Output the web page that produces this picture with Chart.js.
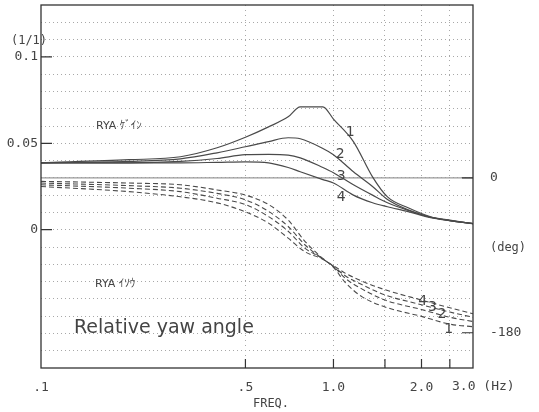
<!DOCTYPE html>
<html>
<head>
<meta charset="utf-8">
<script src="https://cdn.jsdelivr.net/npm/chart.js@4/dist/chart.umd.min.js"></script>
<style>
  body { margin: 0; background: #fff; }
</style>
</head>
<body>
<canvas id="chart" width="539" height="412"></canvas>
<script>
// Frequencies (Hz) for the gain curves
const gainFreq = [0.1, 0.2, 0.3, 0.4, 0.5, 0.6, 0.7, 0.77, 0.92, 1.0, 1.17, 1.36, 1.53, 1.8, 2.15, 2.5, 3.0];
// RYA gain (1/1), curves 1..4
const gain1 = [0.0387, 0.0405, 0.0422, 0.0474, 0.0535, 0.0595, 0.0653, 0.0711, 0.0711, 0.064, 0.051, 0.0306, 0.019, 0.0127, 0.0075, 0.0055, 0.0035];
const gain2 = [0.0387, 0.0395, 0.041, 0.0445, 0.048, 0.051, 0.0532, 0.0526, 0.047, 0.0434, 0.0335, 0.025, 0.0175, 0.0115, 0.0072, 0.0053, 0.0035];
const gain3 = [0.0387, 0.0387, 0.0395, 0.0412, 0.0434, 0.0436, 0.0432, 0.0416, 0.036, 0.033, 0.026, 0.020, 0.0156, 0.0112, 0.0072, 0.0053, 0.0035];
const gain4 = [0.0387, 0.0387, 0.0387, 0.039, 0.0393, 0.0387, 0.036, 0.0335, 0.029, 0.027, 0.020, 0.0156, 0.0133, 0.0105, 0.007, 0.0053, 0.0035];

// Frequencies (Hz) for the phase curves
const phaseFreq = [0.1, 0.2, 0.3, 0.4, 0.5, 0.6, 0.7, 0.8, 0.9, 1.0, 1.1, 1.25, 1.5, 2.0, 2.5, 3.0];
// RYA phase (deg), curves 1..4
const phase1 = [-4, -6, -8, -14, -20, -31, -49, -74, -91, -104, -122, -138, -150, -161, -170, -173];
const phase2 = [-6, -9, -12, -18, -25.5, -39, -56.5, -78, -92, -103, -117, -129, -142, -153, -162, -167];
const phase3 = [-8, -12, -16, -23.6, -31, -45, -62, -82, -92, -103, -114, -124, -136, -147.5, -156, -162];
const phase4 = [-10, -16, -22, -29, -39.5, -52.6, -70, -86, -93, -102, -111, -120, -130, -142, -151, -158];

// Axis ticks
const xTicks = [0.1, 0.5, 1.0, 1.5, 2.0, 2.5, 3.0];
const xLabels = { 0.1: '.1', 0.5: '.5', 1: '1.0', 2: '2.0' };
const gainTicks = [-0.07, -0.06, -0.05, -0.04, -0.03, -0.02, -0.01, 0, 0.01, 0.02, 0.03, 0.04, 0.05, 0.06, 0.07, 0.08, 0.09, 0.1, 0.11, 0.12];
const gainLabels = { '0': '0', '0.05': '0.05', '0.1': '0.1' };
const phaseTicks = [0, -180];

function pts(xs, ys) {
    return xs.map((x, i) => ({ x: x, y: ys[i] }));
}

const lineColor = '#4a4a4a';
const textColor = '#444';
const monoFont = '"DejaVu Sans Mono", "Liberation Mono", monospace';

function gainSet(data) {
    return { data: pts(gainFreq, data), yAxisID: 'y', borderColor: lineColor, borderWidth: 1.2, pointRadius: 0, cubicInterpolationMode: 'monotone', fill: false };
}
function phaseSet(data) {
    return { data: pts(phaseFreq, data), yAxisID: 'y2', borderColor: lineColor, borderWidth: 1.1, borderDash: [5, 3], pointRadius: 0, cubicInterpolationMode: 'monotone', fill: false };
}

// Texts, frame and inner tick marks
const decorPlugin = {
    id: 'decor',
    beforeDatasetsDraw(chart) {
        const ctx = chart.ctx, a = chart.chartArea;
        const y2 = chart.scales.y2;
        ctx.save();
        // 0 deg reference line
        ctx.strokeStyle = '#9a9a9a';
        ctx.lineWidth = 1.2;
        ctx.beginPath();
        ctx.moveTo(a.left, y2.getPixelForValue(0));
        ctx.lineTo(a.right, y2.getPixelForValue(0));
        ctx.stroke();
        ctx.restore();
    },
    afterDraw(chart) {
        const ctx = chart.ctx, a = chart.chartArea;
        const x = chart.scales.x, y = chart.scales.y, y2 = chart.scales.y2;
        ctx.save();
        // frame
        ctx.strokeStyle = '#333';
        ctx.lineWidth = 1.3;
        ctx.strokeRect(a.left, a.top, a.right - a.left, a.bottom - a.top);

        // tick marks pointing inside
        ctx.lineWidth = 1.2;
        ctx.beginPath();
        [0, 0.05, 0.1].forEach(v => {
            const py = y.getPixelForValue(v);
            ctx.moveTo(a.left, py); ctx.lineTo(a.left + 11, py);
        });
        phaseTicks.forEach(v => {
            const py = y2.getPixelForValue(v);
            ctx.moveTo(a.right, py); ctx.lineTo(a.right - 11, py);
        });
        [0.5, 1.0, 1.5, 2.0, 2.5].forEach(v => {
            const px = x.getPixelForValue(v);
            ctx.moveTo(px, a.bottom); ctx.lineTo(px, a.bottom - 9);
        });
        ctx.stroke();

        ctx.fillStyle = textColor;
        ctx.textBaseline = 'middle';
        ctx.textAlign = 'center';
        ctx.font = '12px ' + monoFont;
        ctx.fillText('(1/1)', 29, 41);
        ctx.fillText('(deg)', 508, 248);
        ctx.fillText('FREQ.', 271, 404);
        ctx.textAlign = 'left';
        ctx.font = '13px ' + monoFont;
        ctx.fillText('3.0 (Hz)', 452, 387);

        ctx.font = '11px "DejaVu Sans", "Noto Sans CJK JP", sans-serif';
        ctx.fillText('RYA ｹﾞｲﾝ', 96, 126);
        ctx.fillText('RYA ｲｿｳ', 95, 284);

        ctx.font = '19px "DejaVu Sans", sans-serif';
        ctx.fillText('Relative yaw angle', 74, 328);

        // curve numbers
        ctx.textAlign = 'center';
        ctx.font = '14px "DejaVu Sans", sans-serif';
        [['1', 1.14, 0.0566], ['2', 1.055, 0.0434], ['3', 1.063, 0.0306], ['4', 1.063, 0.0185]].forEach(l => {
            ctx.fillText(l[0], x.getPixelForValue(l[1]), y.getPixelForValue(l[2]));
        });
        [['4', 2.02, -143], ['3', 2.18, -151], ['2', 2.35, -159], ['1', 2.48, -176]].forEach(l => {
            ctx.fillText(l[0], x.getPixelForValue(l[1]), y2.getPixelForValue(l[2]));
        });
        ctx.restore();
    }
};

function noPad(scale) {
    scale.paddingTop = 0; scale.paddingBottom = 0;
    scale.paddingLeft = 0; scale.paddingRight = 0;
}

new Chart('chart', {
    type: 'line',
    data: {
        datasets: [
            gainSet(gain1), gainSet(gain2), gainSet(gain3), gainSet(gain4),
            phaseSet(phase1), phaseSet(phase2), phaseSet(phase3), phaseSet(phase4)
        ]
    },
    options: {
        responsive: false,
        devicePixelRatio: 1,
        animation: false,
        layout: { padding: { top: 5, left: 0, right: 0, bottom: 0 } },
        plugins: { legend: { display: false }, tooltip: { enabled: false } },
        scales: {
            x: {
                type: 'logarithmic',
                min: 0.1,
                max: 3.0,
                afterBuildTicks: s => { s.ticks = xTicks.map(v => ({ value: v })); },
                afterFit: s => { s.height = 44; noPad(s); },
                ticks: {
                    autoSkip: false,
                    maxRotation: 0,
                    padding: 12,
                    color: textColor,
                    font: { family: monoFont, size: 13 },
                    callback: v => xLabels[Math.round(v * 10) / 10] || ''
                },
                grid: {
                    drawTicks: false,
                    color: ctx => (ctx.tick && (ctx.tick.value === 0.1 || ctx.tick.value === 3.0)) ? 'rgba(0,0,0,0)' : '#a8a8a8',
                    lineWidth: 1
                },
                border: { display: false, dash: [1, 4] }
            },
            y: {
                position: 'left',
                min: -0.08,
                max: 0.13,
                afterBuildTicks: s => { s.ticks = gainTicks.map(v => ({ value: v })); },
                afterFit: s => { s.width = 41; noPad(s); },
                ticks: {
                    autoSkip: false,
                    padding: 3,
                    color: textColor,
                    font: { family: monoFont, size: 13 },
                    callback: v => gainLabels[String(Math.round(v * 100) / 100)] || ''
                },
                grid: { drawTicks: false, color: '#a8a8a8', lineWidth: 1 },
                border: { display: false, dash: [1, 3] }
            },
            y2: {
                position: 'right',
                min: -221,
                max: 201,
                afterBuildTicks: s => { s.ticks = phaseTicks.map(v => ({ value: v })); },
                afterFit: s => { s.width = 66; noPad(s); },
                ticks: {
                    autoSkip: false,
                    padding: 17,
                    color: textColor,
                    font: { family: monoFont, size: 13 },
                    callback: v => String(v)
                },
                grid: { drawOnChartArea: false, drawTicks: false },
                border: { display: false }
            }
        }
    },
    plugins: [decorPlugin]
});
</script>
</body>
</html>
